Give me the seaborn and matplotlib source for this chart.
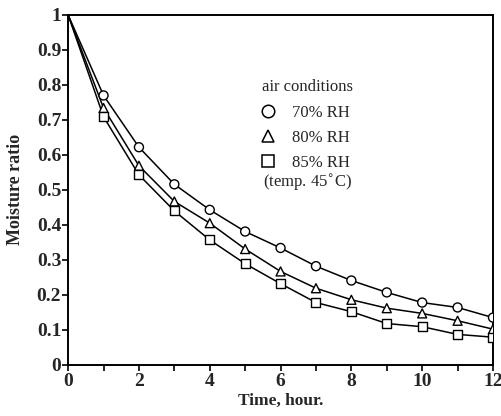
import numpy as np
import pandas as pd
import seaborn as sns
import matplotlib.pyplot as plt
from matplotlib.lines import Line2D
from matplotlib.ticker import MultipleLocator

hours = [0, 1, 2, 3, 4, 5, 6, 7, 8, 9, 10, 11, 12]
rh70 = [1.0, 0.77, 0.622, 0.516, 0.443, 0.381, 0.334, 0.282, 0.241, 0.207, 0.178, 0.164, 0.135]
rh80 = [1.0, 0.734, 0.569, 0.467, 0.405, 0.331, 0.267, 0.219, 0.186, 0.162, 0.147, 0.126, 0.102]
rh85 = [1.0, 0.709, 0.543, 0.44, 0.357, 0.289, 0.232, 0.178, 0.152, 0.118, 0.109, 0.087, 0.079]
conditions = ["70% RH", "80% RH", "85% RH"]
marker_map = {"70% RH": "o", "80% RH": "^", "85% RH": "s"}

sns.set_theme(style="ticks")
plt.rcParams["font.family"] = ["Liberation Serif", "DejaVu Serif"]

df = pd.concat([
    pd.DataFrame({"time": hours, "ratio": vals, "cond": c})
    for c, vals in zip(conditions, [rh70, rh80, rh85])
])

fig = plt.figure(figsize=(5.01, 4.16), dpi=100)
ax = fig.add_axes([0.136, 0.123, 0.848, 0.841])

# lines through all points, markers only on measured points (t > 0)
sns.lineplot(data=df, x="time", y="ratio", units="cond", estimator=None,
             color="black", lw=1.1, legend=False, ax=ax)
meas = df[df["time"] > 0]
sns.scatterplot(data=meas, x="time", y="ratio", style="cond", markers=marker_map,
                facecolor="white", edgecolor="black", linewidth=1.0, s=42,
                legend=False, ax=ax, zorder=3)

ax.set_xlim(0, 12)
ax.set_ylim(0, 1)
ax.xaxis.set_major_locator(MultipleLocator(2))
ax.xaxis.set_minor_locator(MultipleLocator(1))
ax.set_yticks(np.arange(0, 1.01, 0.1))
ax.set_yticklabels(["0"] + [f"{v:.1f}" for v in np.arange(0.1, 0.95, 0.1)] + ["1"])
ax.tick_params(axis="both", which="both", direction="out", length=4, width=1.2,
               labelsize=14, pad=1, color="black")
ax.tick_params(axis="x", pad=2)
for lab in ax.get_xticklabels() + ax.get_yticklabels():
    lab.set_fontweight("bold")
for sp in ax.spines.values():
    sp.set_linewidth(1.4)
    sp.set_color("black")

ax.set_xlabel("Time, hour.", fontsize=12.5, fontweight="bold", labelpad=2)
ax.set_ylabel("Moisture ratio", fontsize=13, fontweight="bold", labelpad=9)

handles = [Line2D([], [], ls="none", marker=marker_map[c], markersize=9,
                  markerfacecolor="white", markeredgecolor="black", mew=1.1)
           for c in conditions]
leg = ax.legend(handles, conditions, title="air conditions", frameon=False,
                loc="upper left", bbox_to_anchor=(0.44, 0.835), fontsize=12,
                title_fontsize=12, handlelength=0.8, handletextpad=1.0,
                labelspacing=0.55, borderaxespad=0)
leg._legend_box.align = "left"
ax.text(0.458, 0.522, "(temp. 45$^{\\circ}$C)", transform=ax.transAxes,
        fontsize=12, ha="left", va="center")

fig.savefig("out.png", dpi=100)
